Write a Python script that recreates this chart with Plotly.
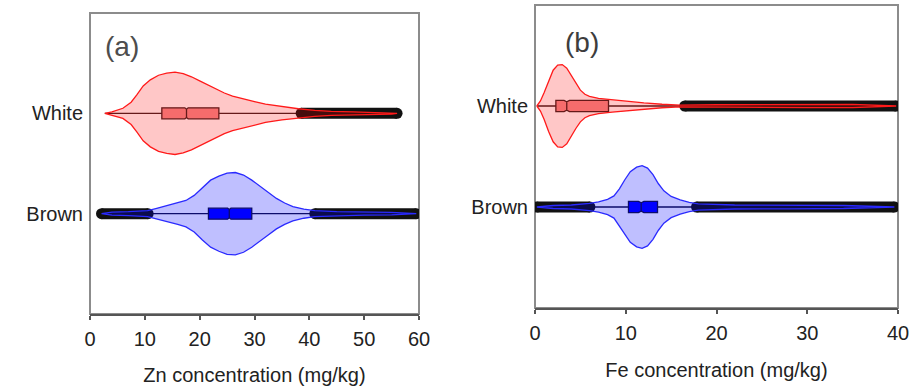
import plotly.graph_objects as go

# ---------------- data ----------------
categories = ["Brown", "White"]
cat_pos = [1, 2]

# Zn (panel a) violin density profiles (relative density along concentration)
zn_white_x = [2.7, 4, 6, 7.5, 8.5, 9.7, 11, 12.5, 14, 15.5, 17, 18.5, 20, 21.5, 23, 24.5, 26, 28, 30, 32, 35, 38, 41, 44, 48, 52, 55, 56]
zn_white_d = [0, 1.5, 5, 11, 18, 27, 33, 37.5, 39.5, 40.5, 39, 36, 32, 28, 24, 20, 17, 14, 11.5, 9, 6.5, 4.5, 3, 2, 1.5, 1, 0.7, 0]
zn_brown_x = [2.1, 4, 7, 10.5, 12, 14, 16, 17.5, 19, 20.5, 22, 23.5, 25, 26.5, 28, 29.5, 31, 32.5, 34, 35.5, 37, 39, 41, 45, 50, 55, 59.5]
zn_brown_d = [0, 1.5, 2, 3, 5, 8, 10.5, 13, 18, 26, 33, 37, 40, 40.5, 38, 33, 27, 21, 15, 10.5, 7, 4.5, 3, 2, 1.5, 1.2, 0]

# Fe (panel b) violin density profiles
fe_white_x = [0.2, 0.6, 1.0, 1.5, 2.0, 2.5, 3.0, 3.5, 4.0, 4.5, 5.0, 5.5, 6.0, 7.0, 8.5, 10, 12, 14, 16, 20, 25, 30, 35, 39.8]
fe_white_d = [0, 5, 13, 25, 35, 40, 40.5, 37, 30, 22, 15.5, 11.5, 9.5, 7.5, 6, 4.5, 3, 1.7, 0.8, 1.2, 1.5, 1.6, 1.5, 0]
fe_brown_x = [0.2, 2, 4, 6, 7, 8, 8.7, 9.3, 9.9, 10.5, 11.2, 11.8, 12.4, 13, 13.6, 14.2, 15, 16, 17, 18, 22, 28, 34, 39.6]
fe_brown_d = [0, 1.5, 2, 3.5, 5, 7.5, 11, 18, 27, 35, 39.5, 41, 38.5, 32, 23, 16, 10.5, 7, 4.5, 3, 2, 1.8, 1.5, 0]

# Box statistics: [lowerfence, q1, median, q3, upperfence]
zn_white_box = [2.7, 13.1, 17.6, 23.5, 38.5]
zn_brown_box = [10.6, 21.6, 25.4, 29.5, 41.0]
fe_white_box = [0.2, 2.3, 3.5, 8.1, 16.5]
fe_brown_box = [6.05, 10.3, 11.7, 13.5, 17.8]

# Outlier ranges [from, to]
zn_white_out = [[38.5, 56.0]]
zn_brown_out = [[2.1, 10.6], [41.0, 59.5]]
fe_white_out = [[16.5, 39.8]]
fe_brown_out = [[0.2, 6.05], [17.8, 39.6]]

zn_ticks = [0, 10, 20, 30, 40, 50, 60]
fe_ticks = [0, 10, 20, 30, 40]

# ---------------- styling ----------------
FONT = "Liberation Sans, Arial, sans-serif"
HALF = 0.41        # max half-width of violin (y units)
BOXW = 0.11

styles = {
    "White": dict(line="#ff1a1a", fill="rgba(255,0,0,0.22)", box="#f28b8b", boxline="#3a2020"),
    "Brown": dict(line="#2a2aff", fill="rgba(0,0,255,0.25)", box="#0000ff", boxline="#10103a"),
}

fig = go.Figure()


def add_group(name, pos, vx, vd, box, outs, xa, ya):
    st = styles[name]
    # outliers (dense crosses) drawn as a thick dark band
    for lo, hi in outs:
        fig.add_trace(go.Scatter(x=[lo, hi], y=[pos, pos], mode="lines+markers",
                                 line=dict(color="#111111", width=11),
                                 marker=dict(color="#111111", size=11, symbol="circle"),
                                 xaxis=xa, yaxis=ya, showlegend=False, hoverinfo="skip"))
    m = max(vd)
    up = [pos + d / m * HALF for d in vd]
    dn = [pos - d / m * HALF for d in vd]
    fig.add_trace(go.Scatter(x=vx + vx[::-1], y=up + dn[::-1], mode="lines", fill="toself",
                             fillcolor=st["fill"], line=dict(color=st["line"], width=1.3),
                             xaxis=xa, yaxis=ya, showlegend=False, hoverinfo="skip"))
    fig.add_trace(go.Box(y=[pos], lowerfence=[box[0]], q1=[box[1]], median=[box[2]],
                         q3=[box[3]], upperfence=[box[4]], orientation="h",
                         notched=True, notchspan=[0.3], notchwidth=0.12,
                         width=BOXW, whiskerwidth=0, boxpoints=False,
                         fillcolor=st["box"], line=dict(color=st["boxline"], width=1.3),
                         xaxis=xa, yaxis=ya, showlegend=False, hoverinfo="skip"))


add_group("White", 2, zn_white_x, zn_white_d, zn_white_box, zn_white_out, "x", "y")
add_group("Brown", 1, zn_brown_x, zn_brown_d, zn_brown_box, zn_brown_out, "x", "y")
add_group("White", 2, fe_white_x, fe_white_d, fe_white_box, fe_white_out, "x2", "y2")
add_group("Brown", 1, fe_brown_x, fe_brown_d, fe_brown_box, fe_brown_out, "x2", "y2")

W, H = 917, 388
ax_common = dict(showgrid=False, zeroline=False, showline=True, linecolor="#555555", linewidth=2,
                 ticks="outside", ticklen=4, tickwidth=2, tickcolor="#555555", automargin=False,
                 ticklabelstandoff=2,
                 tickfont=dict(family=FONT, size=20, color="#222222"))
ay_common = dict(showgrid=False, zeroline=False, showline=False, range=[0, 3], automargin=False,
                 tickvals=cat_pos, ticktext=categories, ticks="outside", ticklen=2,
                 tickcolor="rgba(0,0,0,0)", tickfont=dict(family=FONT, size=20, color="#222222"))

fig.update_layout(
    width=W, height=H, margin=dict(l=0, r=0, t=0, b=0),
    paper_bgcolor="white", plot_bgcolor="white",
    xaxis=dict(domain=[90 / W, 419 / W], range=[0, 60], tickvals=zn_ticks, anchor="y",
               title=dict(text="Zn concentration (mg/kg)", font=dict(family=FONT, size=20, color="#222222"),
                          standoff=19), **ax_common),
    yaxis=dict(domain=[(H - 314) / H, (H - 13) / H], anchor="x", **ay_common),
    xaxis2=dict(domain=[535 / W, 898 / W], range=[0, 40], tickvals=fe_ticks, anchor="y2",
                title=dict(text="Fe concentration (mg/kg)", font=dict(family=FONT, size=20, color="#222222"),
                           standoff=20), **ax_common),
    yaxis2=dict(domain=[(H - 308) / H, (H - 5) / H], anchor="x2", **ay_common),
    shapes=[
        dict(type="rect", xref="x domain", yref="y domain", x0=0, x1=1, y0=0, y1=1,
             line=dict(color="#8c8c8c", width=2), layer="below"),
        dict(type="rect", xref="x2 domain", yref="y2 domain", x0=0, x1=1, y0=0, y1=1,
             line=dict(color="#8c8c8c", width=2), layer="below"),
    ],
    annotations=[
        dict(text="(a)", xref="x domain", yref="y domain", x=0.098, y=0.888, showarrow=False,
             xanchor="center", yanchor="middle", font=dict(family=FONT, size=28, color="#4d4d4d")),
        dict(text="(b)", xref="x2 domain", yref="y2 domain", x=0.13, y=0.876, showarrow=False,
             xanchor="center", yanchor="middle", font=dict(family=FONT, size=28, color="#3d3d3d")),
    ],
)

fig.write_html("out.html", config={"displayModeBar": False},
               post_script="document.body.style.margin='0';document.body.style.overflow='hidden';")
